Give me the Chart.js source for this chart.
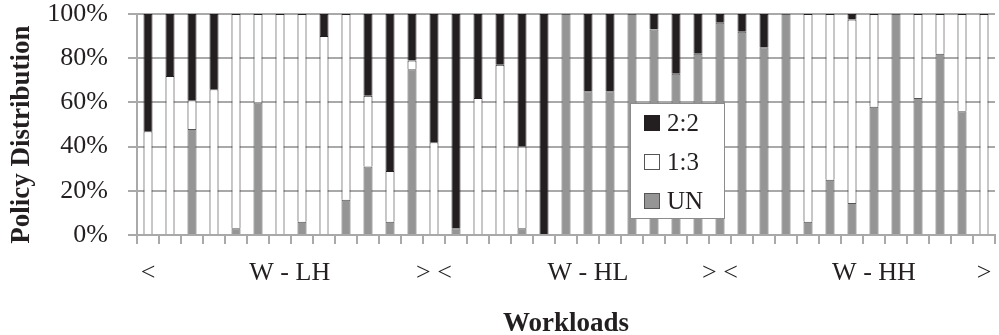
<!DOCTYPE html>
<html>
<head>
<meta charset="utf-8">
<script src="https://cdn.jsdelivr.net/npm/chart.js@4/dist/chart.umd.min.js"></script>
<style>
  html, body { margin: 0; padding: 0; background: #fff; }
  #wrap { width: 999px; height: 335px; position: relative; }
</style>
</head>
<body>
<div id="wrap"><canvas id="c"></canvas></div>
<script>
// Workload categories (three groups of 13); only group markers carry text
const categories = [
  '<', '', '', '', '', '', '   W - LH', '', '', '', '', '', '',
  '> <', '', '', '', '', '', '', 'W - HL', '', '', '', '', '',
  '> <', '', '', '', '', '', '', 'W - HH', '', '', '', '', '>'
];

// Share of each policy per workload (%)
const unShare = [
  0, 0, 48, 0, 3, 60, 0, 6, 0, 16, 31, 6, 75,
  0, 3, 0, 0, 3, 0, 100, 65, 65, 100, 93, 73, 82,
  96, 92, 85, 100, 6, 25, 14.5, 58, 100, 62, 82, 56, 0
];
const share13 = [
  47, 72, 13, 66, 97, 40, 100, 94, 90, 84, 32, 23, 4,
  42, 0, 62, 77, 37, 0, 0, 0, 0, 0, 0, 0, 0,
  0, 0, 0, 0, 94, 75, 83, 42, 0, 38, 18, 44, 100
];
const share22 = [
  53, 28, 39, 34, 0, 0, 0, 0, 10, 0, 37, 71, 21,
  58, 97, 38, 23, 60, 100, 0, 35, 35, 0, 7, 27, 18,
  4, 8, 15, 0, 0, 0, 2.5, 0, 0, 0, 0, 0, 0
];

const yTicks = [0, 20, 40, 60, 80, 100];

const FONT = "'Liberation Serif', 'Times New Roman', serif";
const INK = '#231f20';
const GRID = '#a9a9a9';

// Boxed legend drawn inside the plot area
const boxedLegend = {
  id: 'boxedLegend',
  afterDraw(chart, args, opts) {
    const ctx = chart.ctx;
    const items = chart.data.datasets.slice().reverse();
    ctx.save();
    ctx.fillStyle = '#fff';
    ctx.fillRect(opts.x, opts.y, opts.w, opts.h);
    ctx.strokeStyle = '#8c8c8c';
    ctx.lineWidth = 1;
    ctx.strokeRect(opts.x + 0.5, opts.y + 0.5, opts.w, opts.h);
    ctx.font = opts.fontSize + 'px ' + FONT;
    ctx.textBaseline = 'middle';
    ctx.textAlign = 'left';
    items.forEach((ds, i) => {
      const cy = opts.y + opts.firstRow + i * opts.rowGap;
      const s = opts.box;
      ctx.fillStyle = ds.backgroundColor;
      ctx.fillRect(opts.x + opts.boxLeft, cy - s / 2, s, s);
      ctx.strokeStyle = ds.legendBorder;
      ctx.lineWidth = 1;
      ctx.strokeRect(opts.x + opts.boxLeft + 0.5, cy - s / 2 + 0.5, s - 1, s - 1);
      ctx.fillStyle = INK;
      ctx.fillText(ds.label, opts.x + opts.textLeft, cy + 1);
    });
    ctx.restore();
  }
};

new Chart(document.getElementById('c'), {
  type: 'bar',
  data: {
    labels: categories,
    datasets: [
      { label: 'UN', data: unShare, backgroundColor: '#959595', borderColor: '#555555', legendBorder: '#555555' },
      { label: '1:3', data: share13, backgroundColor: '#ffffff', borderColor: INK, legendBorder: '#555555' },
      { label: '2:2', data: share22, backgroundColor: INK, borderColor: INK, legendBorder: INK }
    ].map(d => Object.assign(d, {
      borderWidth: 1,
      barPercentage: 0.41,
      categoryPercentage: 1.0
    }))
  },
  options: {
    responsive: true,
    maintainAspectRatio: false,
    animation: false,
    events: [],
    layout: { padding: { top: 14, right: 4, left: 0, bottom: 0 } },
    plugins: {
      legend: { display: false },
      tooltip: { enabled: false },
      boxedLegend: {
        x: 630, y: 103, w: 94, h: 115,
        firstRow: 20, rowGap: 39,
        box: 16, boxLeft: 14, textLeft: 37, fontSize: 25
      }
    },
    scales: {
      x: {
        stacked: true,
        afterFit: s => { s.height = 100; s.paddingLeft = 0; s.paddingRight = 0; },
        grid: { drawOnChartArea: false, offset: true, color: GRID, lineWidth: 2, tickLength: 9 },
        border: { color: GRID, width: 2 },
        ticks: {
          autoSkip: false, maxRotation: 0, minRotation: 0,
          padding: 14, color: INK,
          font: { family: FONT, size: 26 }
        },
        title: {
          display: true, text: 'Workloads', color: INK,
          font: { family: FONT, size: 27, weight: 'bold' },
          padding: { top: 0, bottom: -5 }
        }
      },
      y: {
        stacked: true,
        min: 0, max: 100,
        afterFit: s => { s.width = 137; s.paddingTop = 0; s.paddingBottom = 0; },
        afterBuildTicks: s => { s.ticks = yTicks.map(v => ({ value: v })); },
        grid: { color: GRID, lineWidth: 2, tickLength: 9 },
        border: { color: GRID, width: 2 },
        ticks: {
          padding: 20, color: INK,
          font: { family: FONT, size: 26 },
          callback: v => v + '%'
        },
        title: {
          display: true, text: 'Policy Distribution   ', color: INK,
          font: { family: FONT, size: 27, weight: 'bold' },
          padding: { top: 6, bottom: 0 }
        }
      }
    }
  },
  plugins: [boxedLegend]
});
</script>
</body>
</html>
